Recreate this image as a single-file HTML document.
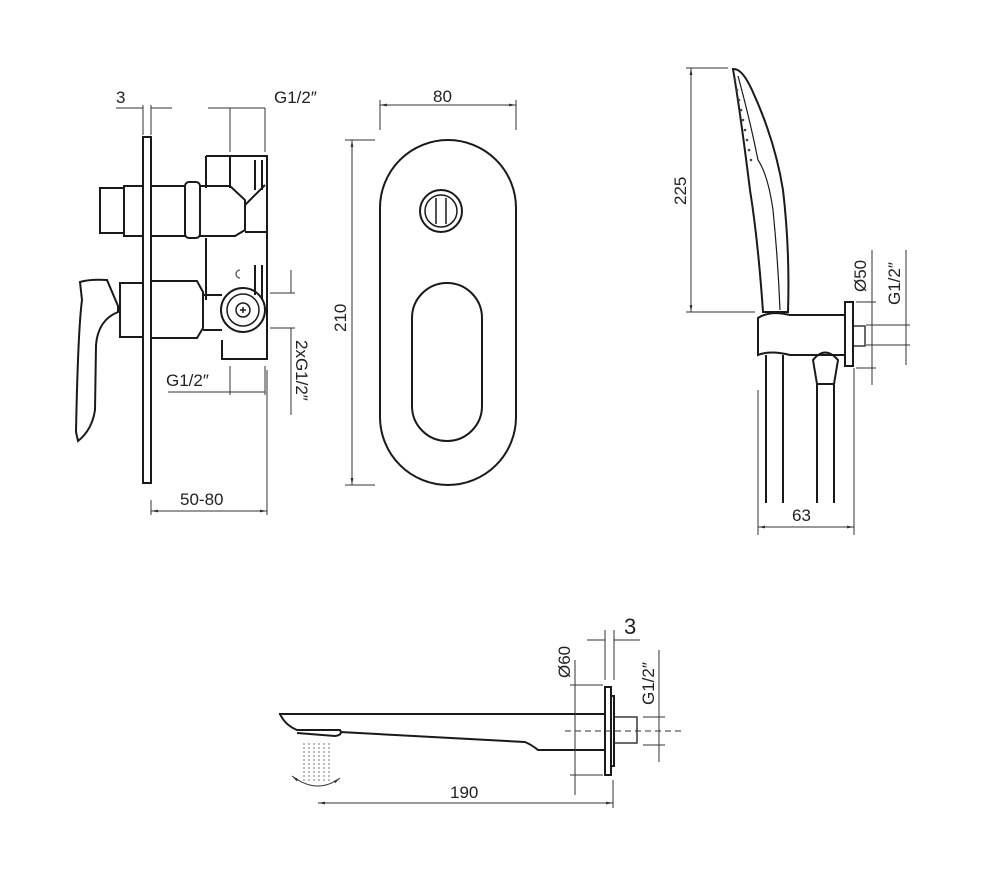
<!DOCTYPE html>
<html><head><meta charset="utf-8"><style>
html,body{margin:0;padding:0;background:#fff}
svg{display:block}
text{font-family:"Liberation Sans","DejaVu Sans",sans-serif;fill:#222}
</style></head><body>
<svg width="984" height="888" viewBox="0 0 984 888" xmlns="http://www.w3.org/2000/svg">
<defs>
<marker id="a" viewBox="0 0 10 10" refX="10" refY="5" markerWidth="7" markerHeight="7" orient="auto-start-reverse"><path d="M0,3 L10,5 L0,7z" fill="#333"/></marker>
</defs>
<g fill="none" stroke="#1a1a1a" stroke-width="2">
<!-- LEFT VALVE -->
<rect x="143" y="137" width="8" height="346"/>
<rect x="100" y="188" width="24" height="45"/>
<rect x="124" y="186" width="19" height="50"/>
<path d="M151,186 H185 V236 H151"/>
<rect x="185" y="182" width="15" height="56" rx="4"/>
<path d="M200,186 H230 L245,200 V230 L235,236 H200"/>
<path d="M206,156 H267 V359 H222 V340"/>
<path d="M206,156 V188 M230,156 V188 M255,160 V190 M262,160 V190"/>
<path d="M245,205 L265,185 M245,232 H267"/>
<path d="M206,238 V300"/>
<path d="M255,265 V295 M262,265 V300"/>
<path d="M80,282 Q90,279 107,280 L118,306 L118,312 Q98,320 96,345 L95,410 Q92,430 78,441 L76,432 Q78,330 82,300 Z"/>
<rect x="120" y="283" width="23" height="54"/>
<path d="M151,281 H197 L203,292 V328 L197,338 H151"/>
<path d="M203,295 H222 M203,330 H222"/>
<circle cx="243" cy="310" r="22"/>
<circle cx="243" cy="310" r="16" stroke-width="1.5"/>
<circle cx="243" cy="310" r="7" stroke-width="1.5"/>
<path d="M240,310 H246 M243,307 V313" stroke-width="1.5"/>
</g>
<path d="M240,270 a4,4 0 1 0 0,8" fill="none" stroke="#555" stroke-width="1.3"/>
<g fill="none" stroke="#333" stroke-width="1">
<path d="M116,108 H143 M151,108 H172 M143,105 V135 M151,105 V135"/>
<path d="M208,108 H265 M230,108 V152 M265,108 V152"/>
<path d="M168,392 H265 M230,366 V395 M265,366 V395"/>
<path d="M270,293 H295 M270,328 H295 M291,270 V293 M291,328 V415"/>
<path d="M151,500 V515 M267,370 V515"/>
<line x1="151" y1="511" x2="267" y2="511" marker-start="url(#a)" marker-end="url(#a)"/>
</g>
<text x="116" y="103" font-size="17">3</text>
<text x="274" y="103" font-size="17">G1/2″</text>
<text x="166" y="386" font-size="17">G1/2″</text>
<text x="180" y="505" font-size="17">50-80</text>
<text font-size="17" transform="translate(296,340) rotate(90)">2xG1/2″</text>

<!-- PLATE -->
<g fill="none" stroke="#1a1a1a" stroke-width="2">
<rect x="380" y="140" width="136" height="345" rx="68"/>
<rect x="412" y="283" width="70" height="158" rx="35"/>
<circle cx="441" cy="211" r="21"/>
<circle cx="441" cy="211" r="16" stroke-width="1.5"/>
<path d="M436,198 V224 M446,198 V224" stroke-width="1.5"/>
</g>
<g fill="none" stroke="#333" stroke-width="1">
<path d="M380,100 V130 M516,100 V130 M345,140 H375 M345,485 H375"/>
<line x1="380" y1="105" x2="516" y2="105" marker-start="url(#a)" marker-end="url(#a)"/>
<line x1="352" y1="140" x2="352" y2="485" marker-start="url(#a)" marker-end="url(#a)"/>
</g>
<text x="433" y="102" font-size="17">80</text>
<text font-size="17" transform="translate(346,332) rotate(-90)">210</text>

<!-- SHOWER -->
<g fill="none" stroke="#1a1a1a" stroke-width="2">
<path d="M733,69 Q742,68 752,90 Q775,140 783,190 Q790,250 788,312 L763,312 Q758,240 750,190 Q740,110 733,69 Z"/>
<path d="M738,76 Q750,120 758,160 Q768,175 773,210 Q778,260 780,310" stroke-width="1.2"/>
<path d="M758,318 Q770,310 790,315 H845 V355 H790 Q770,350 758,355 Z"/>
<rect x="845" y="302" width="8" height="64"/>
<rect x="853" y="326" width="12" height="20" stroke-width="1.3"/>
<path d="M813,360 Q825,345 838,360 L834,384 H817 Z"/>
<path d="M766,355 V503 M783,355 V503 M817,384 V503 M834,384 V503"/>
</g>
<g fill="#444"><circle cx="735" cy="80" r="1.3"/><circle cx="737" cy="90" r="1.3"/><circle cx="739" cy="100" r="1.3"/><circle cx="741" cy="110" r="1.3"/><circle cx="743" cy="120" r="1.3"/><circle cx="745" cy="130" r="1.3"/><circle cx="747" cy="140" r="1.3"/><circle cx="749" cy="150" r="1.3"/><circle cx="751" cy="160" r="1.3"/></g>
<g fill="none" stroke="#333" stroke-width="1">
<path d="M686,68 H728 M686,312 H755"/>
<line x1="691" y1="68" x2="691" y2="312" marker-start="url(#a)" marker-end="url(#a)"/>
<path d="M758,390 V535 M854,368 V535"/>
<line x1="758" y1="527" x2="854" y2="527" marker-start="url(#a)" marker-end="url(#a)"/>
<path d="M856,302 H876 M856,368 H876 M872,250 V385"/>
<path d="M866,325 H910 M866,345 H910 M906,250 V365"/>
</g>
<text x="792" y="521" font-size="17">63</text>
<text font-size="17" transform="translate(686,205) rotate(-90)">225</text>
<text font-size="17" transform="translate(866,292) rotate(-90)">Ø50</text>
<text font-size="17" transform="translate(900,305) rotate(-90)">G1/2″</text>

<!-- SPOUT -->
<g fill="none" stroke="#1a1a1a" stroke-width="2">
<path d="M279,714 H605"/>
<path d="M280,714 Q285,725 297,730 L340,730 Q343,735 335,736 L297,733"/>
<path d="M340,732 L525,742 Q532,745 538,750 H605"/>
<rect x="605" y="687" width="6" height="88"/>
<rect x="611" y="696" width="3" height="70"/>
<rect x="614" y="717" width="23" height="26" stroke-width="1.3"/>
</g>
<g stroke="#777" stroke-width="1" stroke-dasharray="2,2"><path d="M304,743 V782 M309,743 V782 M314,743 V782 M319,743 V782 M324,743 V782 M329,743 V782"/></g>
<path d="M292,776 Q317,795 340,778" fill="none" stroke="#333" stroke-width="1" marker-start="url(#a)" marker-end="url(#a)"/>
<g fill="none" stroke="#333" stroke-width="1">
<path d="M565,731 H685" stroke-dasharray="6,4"/>
<path d="M570,685 H603 M570,775 H603 M575,660 V795"/>
<path d="M587,640 H605 M614,640 H640 M605,630 V680 M614,630 V680"/>
<path d="M643,717 H665 M643,745 H665 M659,650 V762"/>
<path d="M613,780 V808"/>
<line x1="318" y1="803" x2="613" y2="803" marker-start="url(#a)" marker-end="url(#a)"/>
</g>
<text x="450" y="798" font-size="17">190</text>
<text x="624" y="634" font-size="22">3</text>
<text font-size="17" transform="translate(570,678) rotate(-90)">Ø60</text>
<text font-size="17" transform="translate(654,705) rotate(-90)">G1/2″</text>
</svg>
</body></html>
